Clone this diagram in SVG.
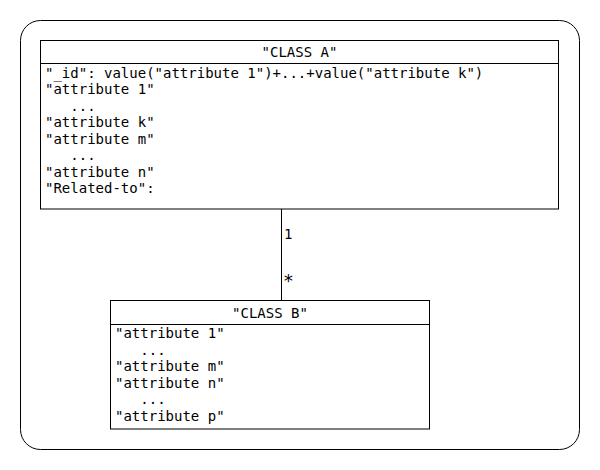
<svg xmlns="http://www.w3.org/2000/svg" width="600" height="470" viewBox="0 0 600 470">
<style>
text{font-family:"DejaVu Sans Mono","Liberation Mono",monospace;font-size:14px;fill:#000;white-space:pre}
.box{fill:#fff;stroke:#000;stroke-width:1}
.line{stroke:#000;stroke-width:1;fill:none}
.c{text-anchor:middle}
</style>
<rect x="20.5" y="20.5" width="559" height="429" rx="20" ry="20" class="box"/>
<g id="connectors">
<line x1="281.5" y1="209" x2="281.5" y2="300" class="line"/>
<text x="284" y="239">1</text>
<text x="283" y="287" style="font-size:18px">*</text>
</g>
<g id="classA">
<rect x="40.5" y="40.5" width="518" height="168.5" class="box"/>
<line x1="40.5" y1="63.5" x2="558.5" y2="63.5" class="line"/>
<text x="299.5" y="57" class="c">"CLASS A"</text>
<text x="45" y="77.5">"_id": value("attribute 1")+...+value("attribute k")</text>
<text x="45" y="94">"attribute 1"</text>
<text x="45" y="110.5" xml:space="preserve">   ...</text>
<text x="45" y="127">"attribute k"</text>
<text x="45" y="143.5">"attribute m"</text>
<text x="45" y="160" xml:space="preserve">   ...</text>
<text x="45" y="176.5">"attribute n"</text>
<text x="45" y="193">"Related-to":</text>
</g>
<g id="classB">
<rect x="110.5" y="300.5" width="319" height="128.5" class="box"/>
<line x1="110.5" y1="324.5" x2="429.5" y2="324.5" class="line"/>
<text x="270" y="317.5" class="c">"CLASS B"</text>
<text x="115" y="338">"attribute 1"</text>
<text x="115" y="354.5" xml:space="preserve">   ...</text>
<text x="115" y="371">"attribute m"</text>
<text x="115" y="387.5">"attribute n"</text>
<text x="115" y="404" xml:space="preserve">   ...</text>
<text x="115" y="420.5">"attribute p"</text>
</g>
</svg>
